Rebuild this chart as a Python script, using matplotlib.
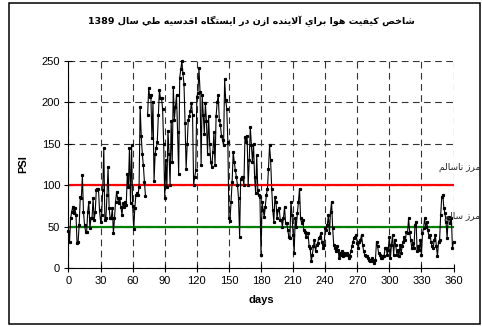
import re
import numpy as np
import matplotlib
matplotlib.use("Agg")
import matplotlib.pyplot as plt
from matplotlib.patches import Rectangle

# daily ozone PSI values (day 0 .. 360), nan = missing day
psi = [
    45, 32, 60, 68, 74, 66, 72, 64, 30, 32,
    52, 86, 84, 112, 68, 52, 44, 44, 68, 80,
    48, 60, 60, 84, 58, 68, 94, 96, 96, 70,
    56, 64, 94, 145, 58, 60, 88, 122, 72, 60,
    60, 72, 42, 60, 80, 92, 84, 78, 84, 74,
    64, 78, 74, 80, 76, 114, 98, 145, 78, 148,
    75, 47, 72, 88, 90, 88, 98, 195, 160, 138,
    124, 104, 87, np.nan, 185, 217, 207, 209, 157, 201,
    105, 138, 145, 152, 185, 215, 205, 205, 192, 150,
    84, 130, 98, 166, 138, 100, 177, 128, 219, 179,
    195, 209, 164, 114, 230, 240, 250, 235, 222, 175,
    120, 150, 179, 183, 190, 199, 185, 100, 110, 118,
    207, 211, 241, 213, 124, 209, 185, 162, 199, 177,
    138, 183, 150, 128, 122, 140, 164, 124, 183, 200,
    209, 179, 173, 160, 155, 148, 228, 203, 192, 152,
    60, 57, 80, 104, 140, 128, 118, 110, 100, 84,
    38, 108, 110, 110, 100, 158, 152, 160, 100, 130,
    170, 148, 128, 150, 110, 90, 136, 94, 88, 86,
    16, 80, 70, 62, 74, 88, 96, 120, 148, 130,
    96, 70, 56, 86, 80, 60, 70, 72, 58, 58,
    50, 60, 74, 54, 54, 46, 38, 36, 80, 64,
    40, 18, 60, 50, 66, 80, 96, 60, 54, 58,
    46, 44, 38, 42, 42, 26, 24, 8, 16, 26,
    34, 20, 28, 30, 36, 38, 42, 32, 24, 28,
    48, 46, 52, 64, 42, 68, 80, 48, 28, 24,
    20, 26, 22, 12, 18, 16, 20, 14, 18, 16,
    18, 16, 12, 14, 20, 26, 32, 36, 38, 40,
    30, 24, 32, 34, 40, 28, 20, 16, 14, 14,
    12, 10, 8, 10, 12, 8, 6, 10, 32, 26,
    18, 16, 12, 12, 14, 14, 24, 24, 16, 22,
    38, 12, 28, 40, 16, 34, 28, 16, 22, 14,
    28, 18, 26, 32, 38, 34, 44, 42, 60, 44,
    34, 24, 30, 24, 52, 56, 20, 26, 22, 34,
    16, 42, 48, 60, 50, 56, 46, 38, 40, 32,
    26, 24, 34, 40, 26, 14, 32, 34, 64, 86,
    88, 72, 66, 56, 36, 60, 62, 54, 60, 24,
    32,
]
days = np.arange(len(psi))

unhealthy_limit = 100
healthy_limit = 50

x_ticks = list(range(0, 361, 30))
y_ticks = list(range(0, 251, 50))

title = 'شاخص كيفيت هوا براي آلاينده ازن در ايستگاه اقدسيه طي سال 1389'
label_unhealthy = 'مرز ناسالم'
label_healthy = 'مرز سالم'

# matplotlib has no arabic shaping, so pick the presentation forms by hand
FORMS = {
    'ا': ('\uFE8D', '\uFE8E'), 'آ': ('\uFE81', '\uFE82'),
    'ب': ('\uFE8F', '\uFE90', '\uFE91', '\uFE92'),
    'ت': ('\uFE95', '\uFE96', '\uFE97', '\uFE98'),
    'خ': ('\uFEA5', '\uFEA6', '\uFEA7', '\uFEA8'),
    'د': ('\uFEA9', '\uFEAA'), 'ر': ('\uFEAD', '\uFEAE'), 'ز': ('\uFEAF', '\uFEB0'),
    'س': ('\uFEB1', '\uFEB2', '\uFEB3', '\uFEB4'),
    'ش': ('\uFEB5', '\uFEB6', '\uFEB7', '\uFEB8'),
    'ص': ('\uFEB9', '\uFEBA', '\uFEBB', '\uFEBC'),
    'ط': ('\uFEC1', '\uFEC2', '\uFEC3', '\uFEC4'),
    'ف': ('\uFED1', '\uFED2', '\uFED3', '\uFED4'),
    'ق': ('\uFED5', '\uFED6', '\uFED7', '\uFED8'),
    'ك': ('\uFED9', '\uFEDA', '\uFEDB', '\uFEDC'),
    'گ': ('\uFB92', '\uFB93', '\uFB94', '\uFB95'),
    'ل': ('\uFEDD', '\uFEDE', '\uFEDF', '\uFEE0'),
    'م': ('\uFEE1', '\uFEE2', '\uFEE3', '\uFEE4'),
    'ن': ('\uFEE5', '\uFEE6', '\uFEE7', '\uFEE8'),
    'ه': ('\uFEE9', '\uFEEA', '\uFEEB', '\uFEEC'),
    'و': ('\uFEED', '\uFEEE'),
    'ي': ('\uFEF1', '\uFEF2', '\uFEF3', '\uFEF4'),
}
LAM_ALEF = {'ا': ('\uFEFB', '\uFEFC'), 'آ': ('\uFEF5', '\uFEF6')}


def shape(s):
    out = []
    i = 0
    while i < len(s):
        c = s[i]
        if c not in FORMS:
            out.append(c)
            i += 1
            continue
        prev = s[i - 1] if i > 0 else ''
        joins_prev = prev in FORMS and len(FORMS[prev]) == 4
        if c == 'ل' and i + 1 < len(s) and s[i + 1] in LAM_ALEF:
            out.append(LAM_ALEF[s[i + 1]][1 if joins_prev else 0])
            i += 2
            continue
        nxt = s[i + 1] if i + 1 < len(s) else ''
        joins_next = len(FORMS[c]) == 4 and nxt in FORMS
        f = FORMS[c]
        if joins_prev and joins_next:
            out.append(f[3])
        elif joins_prev:
            out.append(f[1])
        elif joins_next:
            out.append(f[2])
        else:
            out.append(f[0])
        i += 1
    vis = ''.join(out)[::-1]
    return re.sub(r'[0-9]+', lambda m: m.group(0)[::-1], vis)


plt.rcParams['font.family'] = ['Liberation Sans', 'DejaVu Sans']

fig = plt.figure(figsize=(4.82, 3.27), dpi=100)
ax = fig.add_axes([0.1421, 0.1804, 0.7988, 0.6330])

# outer chart frame
fig.patches.append(Rectangle((9 / 482, 3 / 327), 471 / 482, 321 / 327,
                             transform=fig.transFigure, fill=False,
                             edgecolor='black', linewidth=1.1))

ax.set_xlim(0, 360)
ax.set_ylim(0, 250)
ax.set_xticks(x_ticks)
ax.set_yticks(y_ticks)
ax.grid(True, color='#333333', linestyle=(0, (6, 4)), linewidth=0.8)
ax.set_axisbelow(True)
for side in ['top', 'right']:
    ax.spines[side].set_visible(False)
ax.tick_params(direction='inout', length=6, width=0.8, labelsize=8, pad=3)

ax.axhline(unhealthy_limit, color='#ff0000', linewidth=1.6, zorder=2)
ax.axhline(healthy_limit, color='#008000', linewidth=1.6, zorder=2)

ax.plot(days, psi, color='black', linewidth=0.8, marker='s', markersize=1.3,
        zorder=3, clip_on=False)

fig.text(480 / 482, 1 - 167 / 327, shape(label_unhealthy), fontsize=6.5,
         family='DejaVu Sans', ha='right', va='center', color='#222222')
fig.text(480 / 482, 1 - 216 / 327, shape(label_healthy), fontsize=6.5,
         family='DejaVu Sans', ha='right', va='center', color='#222222',
         zorder=4)

fig.text(251 / 482, 1 - 21 / 327, shape(title), fontsize=6.8, fontweight='bold',
         family='DejaVu Sans', ha='center', va='center')

ax.set_xlabel('days', fontsize=8, fontweight='bold', labelpad=6)
ax.set_ylabel('PSI', fontsize=8, fontweight='bold', labelpad=10)

fig.savefig('out.png', dpi=100)
